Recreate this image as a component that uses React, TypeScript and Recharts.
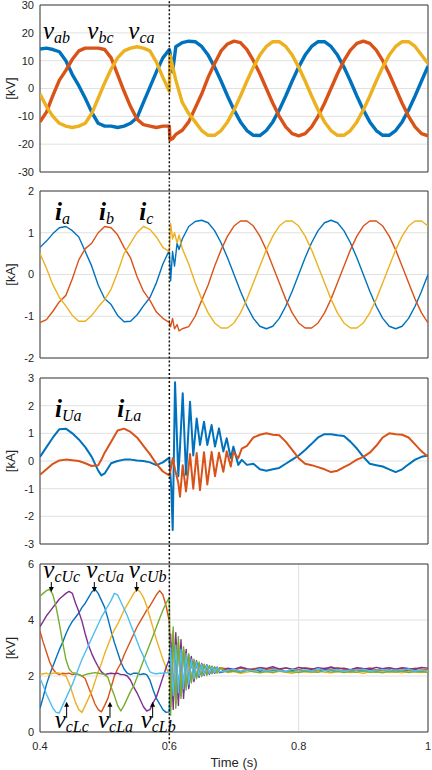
import React from "react";
import {
  CartesianGrid,
  Line,
  LineChart,
  ReferenceArea,
  ReferenceDot,
  ReferenceLine,
  XAxis,
  YAxis,
} from "recharts";

// MATLAB default line order
const BLUE = "#0072BD";
const ORANGE = "#D95319";
const YELLOW = "#EDB120";
const PURPLE = "#7E2F8E";
const GREEN = "#77AC30";
const CYAN = "#4DBEEE";

const GRID = "#e1e1e1";
const BOX = "#3c3c3c";
const INK = "#262626";
const SANS = "'Liberation Sans', Arial, Helvetica, sans-serif";
const SERIF = "'Liberation Serif', 'Times New Roman', serif";
const W = 432;
const TIME_TICKS = [0.4, 0.6, 0.8, 1];

/* ---------- line voltages [kV] ---------- */
const T1 = [
  0.4, 0.41, 0.42, 0.43, 0.44, 0.45, 0.46, 0.47, 0.48, 0.49, 0.5, 0.51, 0.52, 0.53, 0.54, 0.55, 0.56, 0.57, 0.58, 0.59, 0.6,
  0.601, 0.605,
  0.61, 0.62, 0.63, 0.64, 0.65, 0.66, 0.67, 0.68, 0.69, 0.7, 0.71, 0.72, 0.73, 0.74, 0.75, 0.76, 0.77, 0.78, 0.79, 0.8,
  0.81, 0.82, 0.83, 0.84, 0.85, 0.86, 0.87, 0.88, 0.89, 0.9, 0.91, 0.92, 0.93, 0.94, 0.95, 0.96, 0.97, 0.98, 0.99, 1.0,
];
const VAB = [
  14.2, 14.5, 14, 13.2, 10, 5, 1, -3.5, -8.5, -12.5, -13.5, -13.5, -14, -13.5, -12.5, -10.5, -5, 0.5, 6, 11, 14,
  13, 6,
  15, 16.5, 17, 16.8, 15.1, 12, 7.7, 2.7, -2.7, -7.7, -12, -15.1, -16.8, -16.9, -15.1, -12, -7.7, -2.7, 2.7, 7.7,
  12, 15.1, 16.8, 16.8, 15.1, 12, 7.7, 2.7, -2.7, -7.7, -12, -15.1, -16.8, -16.8, -15.1, -12, -7.7, -2.7, 2.7, 8,
];
const VBC = [
  -12, -8.5, -2.5, 3, 6.5, 10.5, 13.5, 14.5, 14.5, 14.5, 14, 11, 5, -1, -6.5, -11, -13, -13.5, -14, -13.5, -13.5,
  -18.5, -18,
  -16.5, -15, -12, -7, -2, 4, 9, 13.5, 16, 17, 16.5, 14, 10, 5.3, 0, -5.3, -10, -13.8, -16.2, -17,
  -16.2, -13.8, -10, -5.3, 0, 5.3, 10, 13.8, 16.2, 17, 16.2, 13.8, 10, 5.3, 0, -5.3, -10, -13.8, -16.2, -17,
];
const VCA = [
  -2, -6.5, -10, -12.5, -13.5, -14, -13.5, -12.5, -9, -3.5, 2, 7, 11, 13.5, 14.5, 15, 14.5, 13.5, 9.5, 4, -1,
  12, 8,
  3, -5, -9, -12, -15.1, -16.8, -16.8, -15.1, -12, -7.7, -2.7, 2.7, 7.7, 12, 15.1, 16.8, 16.8, 15.1, 12, 7.7,
  2.7, -2.7, -7.7, -12, -15.1, -16.8, -16.8, -15.1, -12, -7.7, -2.7, 2.7, 7.7, 12, 15.1, 16.8, 16.8, 15.1, 12, 9,
];

/* ---------- phase currents [kA] ---------- */
const T2 = [
  0.4, 0.41, 0.42, 0.43, 0.44, 0.45, 0.46, 0.47, 0.48, 0.49, 0.5, 0.51, 0.52, 0.53, 0.54, 0.55, 0.56, 0.57, 0.58, 0.59, 0.6,
  0.602, 0.605, 0.608, 0.612, 0.615, 0.62,
  0.63, 0.64, 0.65, 0.66, 0.67, 0.68, 0.69, 0.7, 0.71, 0.72, 0.73, 0.74, 0.75, 0.76, 0.77, 0.78, 0.79, 0.8,
  0.81, 0.82, 0.83, 0.84, 0.85, 0.86, 0.87, 0.88, 0.89, 0.9, 0.91, 0.92, 0.93, 0.94, 0.95, 0.96, 0.97, 0.98, 0.99, 1.0,
];
const IA = [
  0.65, 0.8, 0.98, 1.12, 1.15, 1.05, 0.9, 0.55, 0.2, -0.25, -0.58, -0.72, -0.98, -1.13, -1.12, -0.97, -0.75, -0.55, -0.2, 0.25, 0.58,
  -0.15, 0.55, 0.2, 0.75, 0.6, 0.85,
  1.15, 1.27, 1.3, 1.24, 1.05, 0.76, 0.4, 0, -0.4, -0.76, -1.05, -1.24, -1.3, -1.24, -1.05, -0.76, -0.4, 0,
  0.4, 0.76, 1.05, 1.24, 1.3, 1.24, 1.05, 0.76, 0.4, 0, -0.4, -0.76, -1.05, -1.24, -1.3, -1.24, -1.05, -0.76, -0.4, 0,
];
const IB = [
  -1.15, -1.08, -0.88, -0.65, -0.5, -0.1, 0.35, 0.62, 0.75, 1.0, 1.15, 1.12, 0.95, 0.65, 0.4, -0.05, -0.4, -0.62, -0.9, -1.05, -1.15,
  -1.25, -1.05, -1.3, -1.2, -1.35, -1.3,
  -1.25, -1.0, -0.62, -0.25, 0.2, 0.59, 0.92, 1.16, 1.28, 1.28, 1.16, 0.92, 0.59, 0.2, -0.2, -0.59, -0.92, -1.16,
  -1.28, -1.28, -1.16, -0.92, -0.59, -0.2, 0.2, 0.59, 0.92, 1.16, 1.28, 1.28, 1.16, 0.92, 0.59, 0.2, -0.2, -0.59, -0.92, -1.16,
];
const IC = [
  0.5, 0.15, -0.25, -0.55, -0.75, -0.98, -1.12, -1.12, -0.98, -0.78, -0.6, -0.35, 0.05, 0.5, 0.75, 1.0, 1.15, 1.08, 0.9, 0.65, 0.55,
  1.22, 0.85, 1.0, 0.75, 0.95, 0.62,
  0.25, -0.2, -0.59, -0.92, -1.16, -1.28, -1.28, -1.16, -0.92, -0.59, -0.2, 0.2, 0.59, 0.92, 1.16, 1.28, 1.28, 1.16,
  0.92, 0.59, 0.2, -0.2, -0.59, -0.92, -1.16, -1.28, -1.28, -1.16, -0.92, -0.59, -0.2, 0.2, 0.59, 0.92, 1.16, 1.28, 1.28, 1.16,
];

/* ---------- upper / lower arm currents of phase a [kA] ---------- */
const T3 = [
  0.4, 0.41, 0.42, 0.43, 0.44, 0.45, 0.46, 0.47, 0.48, 0.49, 0.495, 0.5, 0.51, 0.52, 0.53, 0.54, 0.55, 0.56, 0.57, 0.58, 0.59, 0.6,
  0.603, 0.6052, 0.6088, 0.6139, 0.6165, 0.6207, 0.6258, 0.632, 0.637, 0.6423, 0.6474, 0.6536, 0.6587, 0.6654, 0.6706,
  0.6768, 0.6835, 0.6887, 0.695, 0.699, 0.7066, 0.712,
  0.72, 0.73, 0.74, 0.75, 0.76, 0.77, 0.78, 0.79, 0.8, 0.81, 0.82, 0.83, 0.84, 0.85, 0.86, 0.87, 0.88, 0.89, 0.9,
  0.91, 0.92, 0.93, 0.94, 0.95, 0.96, 0.97, 0.98, 0.99, 1.0,
];
const IUA = [
  0.15, 0.5, 0.85, 1.15, 1.17, 1.0, 0.78, 0.5, 0.15, -0.35, -0.52, -0.45, -0.08, 0.0, 0.05, 0.05, 0.02, 0.0, -0.05, -0.15, -0.05, 0.12,
  -1.0, -2.49, 2.85, -0.55, 0.5, 2.45, -0.5, 2.14, 0.2, 1.54, 0.58, 1.42, 0.58, 1.3, 0.52,
  1.18, 0.34, 0.82, 0.1, 0.52, -0.14, 0.04,
  -0.14, -0.1, -0.3, -0.35, -0.3, -0.25, -0.1, 0.05, 0.2, 0.4, 0.62, 0.85, 0.97, 0.97, 0.93, 0.9, 0.7, 0.45, 0.15,
  -0.1, -0.15, -0.2, -0.3, -0.4, -0.3, -0.12, 0.05, 0.15, 0.2,
];
const ILA = [
  -0.5, -0.3, -0.1, 0.02, 0.05, 0.03, 0.0, -0.08, -0.18, -0.15, 0.05, 0.3, 0.7, 1.1, 1.17, 1.05, 0.85, 0.55, 0.25, -0.1, -0.38, -0.52,
  -0.2, 0.1, -0.3, -0.8, -1.29, -0.15, -1.1, 0.25, -1.0, 0.29, -1.05, 0.32, -0.85, 0.33, -0.55,
  0.3, -0.39, 0.35, -0.2, 0.32, 0.1, 0.45,
  0.55, 0.85, 0.95, 1.0, 0.95, 0.93, 0.7, 0.4, 0.1, -0.1, -0.15, -0.22, -0.3, -0.4, -0.35, -0.22, -0.1, 0.05, 0.15,
  0.3, 0.55, 0.85, 1.0, 0.97, 0.95, 0.85, 0.6, 0.35, 0.15,
];

/* ---------- arm capacitor voltages [kV] ---------- */
const T4 = [
  0.4, 0.405, 0.41, 0.415, 0.42, 0.425, 0.43, 0.435, 0.44, 0.445, 0.45, 0.455, 0.46, 0.465, 0.47, 0.475, 0.48, 0.485, 0.49, 0.495,
  0.5, 0.505, 0.51, 0.515, 0.52, 0.525, 0.53, 0.535, 0.54, 0.545, 0.55, 0.555, 0.56, 0.565, 0.57, 0.575, 0.58, 0.585, 0.59, 0.595, 0.6,
  0.602, 0.606, 0.61, 0.614, 0.618, 0.622, 0.626, 0.63, 0.634, 0.638, 0.642, 0.646, 0.65, 0.654, 0.658, 0.662, 0.666, 0.67, 0.674, 0.678,
  0.69, 0.7, 0.71, 0.72, 0.73, 0.74, 0.75, 0.76, 0.77, 0.78, 0.79, 0.8, 0.81, 0.82, 0.83, 0.84, 0.85, 0.86, 0.87, 0.88,
  0.89, 0.9, 0.91, 0.92, 0.93, 0.94, 0.95, 0.96, 0.97, 0.98, 0.99, 1.0,
];
const VCUA = [
  0.85, 1.25, 1.7, 2.05, 2.35, 2.65, 2.95, 3.2, 3.5, 3.75, 3.95, 4.1, 4.25, 4.45, 4.6, 4.8, 5.0, 5.1, 4.95, 4.7,
  4.45, 4.05, 3.6, 3.2, 2.85, 2.5, 2.25, 2.1, 2.05, 2.1, 2.1, 2.05, 2.08, 2.05, 1.85, 1.5, 1.2, 1.0, 0.8, 0.7, 0.72,
  3.2, 1.1, 3.3, 1.15, 3.1, 1.4, 2.85, 1.6, 2.65, 1.85, 2.5, 1.98, 2.42, 2.05, 2.36, 2.08, 2.33, 2.1, 2.3, 2.12,
  2.18, 2.22, 2.15, 2.2, 2.24, 2.17, 2.21, 2.19, 2.23, 2.16, 2.2, 2.22, 2.18, 2.21, 2.17, 2.23, 2.2, 2.16, 2.22, 2.19,
  2.21, 2.18, 2.24, 2.17, 2.2, 2.22, 2.18, 2.21, 2.19, 2.23, 2.17, 2.2,
];
const VCLA = [
  3.6, 3.2, 2.85, 2.5, 2.25, 2.1, 2.05, 2.1, 2.08, 2.1, 2.05, 2.08, 2.05, 2.0, 1.9, 1.6, 1.3, 1.0, 0.8, 0.72,
  0.95, 1.2, 1.6, 2.0, 2.25, 2.45, 2.75, 3.0, 3.25, 3.5, 3.75, 3.95, 4.15, 4.35, 4.5, 4.7, 4.9, 5.05, 4.9, 4.5, 3.95,
  0.9, 3.6, 1.0, 3.2, 1.3, 2.95, 1.6, 2.75, 1.8, 2.55, 1.95, 2.45, 2.02, 2.4, 2.05, 2.35, 2.1, 2.32, 2.12, 2.3,
  2.25, 2.2, 2.28, 2.22, 2.26, 2.3, 2.24, 2.27, 2.21, 2.29, 2.25, 2.23, 2.3, 2.26, 2.22, 2.28, 2.24, 2.3, 2.25, 2.21,
  2.27, 2.24, 2.29, 2.22, 2.26, 2.3, 2.24, 2.27, 2.22, 2.28, 2.25, 2.23,
];
const VCUB = [
  2.05, 2.08, 2.1, 2.05, 2.1, 2.12, 2.1, 2.05, 2.0, 1.75, 1.4, 1.05, 0.8, 0.7, 0.95, 1.2, 1.45, 1.8, 2.15, 2.45,
  2.8, 3.1, 3.4, 3.65, 3.85, 4.1, 4.35, 4.55, 4.75, 4.95, 5.1, 5.0, 4.8, 4.5, 4.1, 3.7, 3.3, 2.95, 2.6, 2.3, 2.05,
  1.0, 3.4, 1.1, 3.15, 1.35, 2.9, 1.65, 2.7, 1.85, 2.55, 1.98, 2.45, 2.05, 2.38, 2.08, 2.35, 2.1, 2.32, 2.12, 2.28,
  2.12, 2.16, 2.1, 2.14, 2.18, 2.12, 2.15, 2.11, 2.17, 2.13, 2.1, 2.16, 2.14, 2.12, 2.18, 2.13, 2.11, 2.15, 2.17, 2.12,
  2.14, 2.1, 2.16, 2.13, 2.18, 2.12, 2.15, 2.11, 2.17, 2.14, 2.12, 2.16,
];
const VCLB = [
  3.76, 3.95, 4.15, 4.3, 4.45, 4.6, 4.75, 4.85, 4.95, 5.02, 4.95, 4.6, 4.3, 3.95, 3.5, 3.1, 2.8, 2.55, 2.33, 2.15,
  2.05, 2.08, 2.1, 2.08, 2.1, 2.05, 2.05, 2.0, 1.85, 1.6, 1.4, 1.15, 0.9, 0.75, 0.8, 1.05, 1.25, 1.6, 1.95, 2.3, 2.6,
  3.5, 0.8, 3.55, 0.95, 3.3, 1.2, 2.95, 1.55, 2.7, 1.8, 2.55, 1.95, 2.45, 2.02, 2.4, 2.06, 2.35, 2.1, 2.32, 2.12,
  2.28, 2.24, 2.32, 2.26, 2.22, 2.3, 2.27, 2.33, 2.25, 2.29, 2.23, 2.31, 2.27, 2.24, 2.3, 2.26, 2.32, 2.25, 2.28, 2.23,
  2.3, 2.27, 2.25, 2.31, 2.26, 2.29, 2.24, 2.3, 2.27, 2.25, 2.31, 2.28,
];
const VCUC = [
  4.85, 4.95, 5.05, 5.1, 4.9, 4.45, 3.85, 3.2, 2.6, 2.25, 2.12, 2.1, 2.05, 2.0, 2.05, 2.08, 2.1, 2.12, 2.1, 2.08,
  2.05, 1.95, 1.6, 1.3, 0.95, 0.75, 0.95, 1.2, 1.45, 1.65, 1.95, 2.25, 2.55, 2.85, 3.15, 3.45, 3.75, 4.05, 4.35, 4.6, 4.8,
  0.6, 3.75, 0.85, 3.4, 1.2, 3.05, 1.5, 2.8, 1.75, 2.6, 1.9, 2.5, 1.98, 2.42, 2.02, 2.38, 2.08, 2.33, 2.1, 2.3,
  2.14, 2.18, 2.12, 2.2, 2.15, 2.11, 2.17, 2.13, 2.19, 2.14, 2.16, 2.12, 2.18, 2.15, 2.13, 2.19, 2.14, 2.17, 2.12, 2.16,
  2.14, 2.19, 2.13, 2.15, 2.11, 2.17, 2.14, 2.18, 2.12, 2.16, 2.15, 2.13,
];
const VCLC = [
  1.92, 1.65, 1.35, 1.1, 0.85, 0.7, 0.68, 0.95, 1.2, 1.45, 1.7, 2.0, 2.3, 2.6, 2.85, 3.1, 3.35, 3.6, 3.85, 4.1,
  4.3, 4.5, 4.7, 4.95, 4.9, 4.65, 4.4, 4.15, 3.85, 3.55, 3.25, 2.95, 2.7, 2.4, 2.15, 2.1, 2.08, 2.1, 2.1, 2.12, 2.1,
  3.0, 1.3, 3.1, 1.4, 2.95, 1.55, 2.8, 1.7, 2.6, 1.9, 2.5, 2.0, 2.42, 2.05, 2.38, 2.1, 2.34, 2.12, 2.3, 2.15,
  2.2, 2.24, 2.17, 2.22, 2.19, 2.25, 2.18, 2.23, 2.2, 2.16, 2.24, 2.2, 2.22, 2.18, 2.25, 2.19, 2.21, 2.23, 2.17, 2.22,
  2.2, 2.24, 2.18, 2.21, 2.23, 2.19, 2.22, 2.2, 2.25, 2.18, 2.21, 2.2,
];

type Tag = { t: number; v: number; main: string; sub: string; arrow?: "down" | "up" };

const TAGS1: Tag[] = [
  { t: 0.4046, v: 17.8, main: "v", sub: "ab" },
  { t: 0.4731, v: 17.8, main: "v", sub: "bc" },
  { t: 0.5366, v: 17.8, main: "v", sub: "ca" },
];
const TAGS2: Tag[] = [
  { t: 0.4232, v: 1.305, main: "i", sub: "a" },
  { t: 0.4912, v: 1.305, main: "i", sub: "b" },
  { t: 0.5536, v: 1.305, main: "i", sub: "c" },
];
const TAGS3: Tag[] = [
  { t: 0.4232, v: 1.6, main: "i", sub: "Ua" },
  { t: 0.5196, v: 1.6, main: "i", sub: "La" },
];
const TAGS4: Tag[] = [
  { t: 0.4175, v: 5.0, main: "v", sub: "cUc", arrow: "down" },
  { t: 0.484, v: 5.0, main: "v", sub: "cUa", arrow: "down" },
  { t: 0.5495, v: 5.0, main: "v", sub: "cUb", arrow: "down" },
  { t: 0.4412, v: 1.08, main: "v", sub: "cLc", arrow: "up" },
  { t: 0.5082, v: 1.08, main: "v", sub: "cLa", arrow: "up" },
  { t: 0.5742, v: 1.08, main: "v", sub: "cLb", arrow: "up" },
];

function zip(t: number[], cols: Record<string, number[]>) {
  return t.map((tt, i) => {
    const row: Record<string, number> = { t: tt };
    for (const k of Object.keys(cols)) row[k] = cols[k][i];
    return row;
  });
}

const rows1 = zip(T1, { ab: VAB, bc: VBC, ca: VCA });
const rows2 = zip(T2, { a: IA, b: IB, c: IC });
const rows3 = zip(T3, { ua: IUA, la: ILA });
const rows4 = zip(T4, { cua: VCUA, cla: VCLA, cub: VCUB, clb: VCLB, cuc: VCUC, clc: VCLC });

function MathTag({ vb, tag }: { vb: any; tag: Tag }) {
  const x = vb.x;
  const y = vb.y;
  const bold = tag.main === "i";
  const txt = (tx: number, ty: number) => (
    <text x={tx} y={ty} fontFamily={SERIF} fontStyle="italic" fontSize={25} fontWeight={bold ? 700 : 400} fill="#000">
      {tag.main}
      <tspan fontSize={16} fontWeight={400} dy={4}>
        {tag.sub}
      </tspan>
    </text>
  );
  if (tag.arrow === "down") {
    return (
      <g>
        {txt(x - 8, y - 14)}
        <line x1={x} y1={y - 10} x2={x} y2={y - 4} stroke="#000" strokeWidth={1} />
        <path d={`M${x - 2.5},${y - 5}L${x + 2.5},${y - 5}L${x},${y}Z`} fill="#000" />
      </g>
    );
  }
  if (tag.arrow === "up") {
    return (
      <g>
        {txt(x - 12, y + 26)}
        <line x1={x} y1={y + 16} x2={x} y2={y + 4} stroke="#000" strokeWidth={1} />
        <path d={`M${x - 2.5},${y + 5}L${x + 2.5},${y + 5}L${x},${y}Z`} fill="#000" />
      </g>
    );
  }
  return txt(x, y);
}

type Trace = { key: string; color: string; width: number };

function Panel(props: {
  top: number;
  height: number;
  mt: number;
  mb: number;
  rows: Record<string, number>[];
  traces: Trace[];
  yDomain: [number, number];
  yTicks: number[];
  unit: string;
  marker: [number, number];
  tags: Tag[];
  timeAxis?: boolean;
}) {
  const { top, height, mt, mb, rows, traces, yDomain, yTicks, unit, marker, tags, timeAxis } = props;
  const tickStyle = { fontSize: 11, fill: INK, fontFamily: SANS };
  const unitTitle = (p: any) => {
    const vb = p.viewBox ?? p;
    const cx = vb.x + 10;
    const cy = vb.y + vb.height / 2;
    return (
      <text x={cx} y={cy} transform={`rotate(-90 ${cx} ${cy})`} textAnchor="middle" dominantBaseline="central" fontSize={13} fill={INK} fontFamily={SANS}>
        {unit}
      </text>
    );
  };
  const timeTitle = (p: any) => {
    const vb = p.viewBox ?? p;
    return (
      <text x={vb.x + vb.width / 2} y={vb.y + 35} textAnchor="middle" fontSize={13} fill={INK} fontFamily={SANS}>
        Time (s)
      </text>
    );
  };
  return (
    <div style={{ position: "absolute", left: 0, top }}>
      <LineChart width={W} height={height} data={rows} margin={{ top: mt, right: 4, bottom: mb, left: 0 }}>
        <CartesianGrid stroke={GRID} strokeWidth={1} />
        {timeAxis ? (
          <XAxis
            dataKey="t"
            type="number"
            domain={[0.4, 1]}
            ticks={TIME_TICKS}
            interval={0}
            allowDataOverflow
            height={38}
            axisLine={false}
            tickLine={false}
            tickSize={0}
            tickMargin={10}
            tick={tickStyle}
            label={timeTitle}
          />
        ) : (
          <XAxis
            dataKey="t"
            type="number"
            domain={[0.4, 1]}
            ticks={TIME_TICKS}
            interval={0}
            allowDataOverflow
            height={0}
            axisLine={false}
            tickLine={false}
            tick={false}
          />
        )}
        <YAxis
          type="number"
          domain={yDomain}
          ticks={yTicks}
          interval={0}
          allowDataOverflow
          width={40}
          axisLine={false}
          tickLine={false}
          tickSize={0}
          tickMargin={6}
          tick={tickStyle}
          label={unitTitle}
        />
        {traces.map((tr) => (
          <Line
            key={tr.key}
            type="linear"
            dataKey={tr.key}
            stroke={tr.color}
            strokeWidth={tr.width}
            strokeLinejoin="round"
            dot={false}
            activeDot={false}
            isAnimationActive={false}
          />
        ))}
        <ReferenceArea x1={0.4} x2={1} y1={yDomain[0]} y2={yDomain[1]} fill="none" stroke={BOX} strokeWidth={1} ifOverflow="visible" />
        <ReferenceLine
          segment={[
            { x: 0.6, y: marker[0] },
            { x: 0.6, y: marker[1] },
          ]}
          stroke="#111"
          strokeWidth={1.5}
          strokeDasharray="2 2"
          ifOverflow="visible"
        />
        {tags.map((tag, i) => (
          <ReferenceDot
            key={i}
            x={tag.t}
            y={tag.v}
            r={0}
            fill="none"
            stroke="none"
            label={(p: any) => <MathTag vb={p.viewBox ?? p} tag={tag} />}
          />
        ))}
      </LineChart>
    </div>
  );
}

export default function App() {
  return (
    <div style={{ position: "fixed", left: 0, top: 0, width: W, height: 770, background: "#fff", overflow: "hidden" }}>
      <Panel
        top={0}
        height={182}
        mt={5}
        mb={10}
        rows={rows1}
        traces={[
          { key: "ab", color: BLUE, width: 3.4 },
          { key: "bc", color: ORANGE, width: 3.4 },
          { key: "ca", color: YELLOW, width: 3.4 },
        ]}
        yDomain={[-30, 30]}
        yTicks={[-30, -20, -10, 0, 10, 20, 30]}
        unit="[kV]"
        marker={[-34, 32]}
        tags={TAGS1}
      />
      <Panel
        top={182}
        height={186}
        mt={9}
        mb={10}
        rows={rows2}
        traces={[
          { key: "a", color: BLUE, width: 1.4 },
          { key: "b", color: ORANGE, width: 1.4 },
          { key: "c", color: YELLOW, width: 1.4 },
        ]}
        yDomain={[-2, 2]}
        yTicks={[-2, -1, 0, 1, 2]}
        unit="[kA]"
        marker={[-2.3, 2.3]}
        tags={TAGS2}
      />
      <Panel
        top={368}
        height={186}
        mt={10}
        mb={10}
        rows={rows3}
        traces={[
          { key: "ua", color: BLUE, width: 2 },
          { key: "la", color: ORANGE, width: 2 },
        ]}
        yDomain={[-3, 3]}
        yTicks={[-3, -2, -1, 0, 1, 2, 3]}
        unit="[kA]"
        marker={[-3.4, 3.4]}
        tags={TAGS3}
      />
      <Panel
        top={554}
        height={216}
        mt={10}
        mb={0}
        rows={rows4}
        traces={[
          { key: "cua", color: BLUE, width: 1.4 },
          { key: "cla", color: ORANGE, width: 1.4 },
          { key: "cub", color: YELLOW, width: 1.4 },
          { key: "clb", color: PURPLE, width: 1.4 },
          { key: "cuc", color: GREEN, width: 1.4 },
          { key: "clc", color: CYAN, width: 1.4 },
        ]}
        yDomain={[0, 6]}
        yTicks={[0, 2, 4, 6]}
        unit="[kV]"
        marker={[-0.4, 6.4]}
        tags={TAGS4}
        timeAxis
      />
    </div>
  );
}
